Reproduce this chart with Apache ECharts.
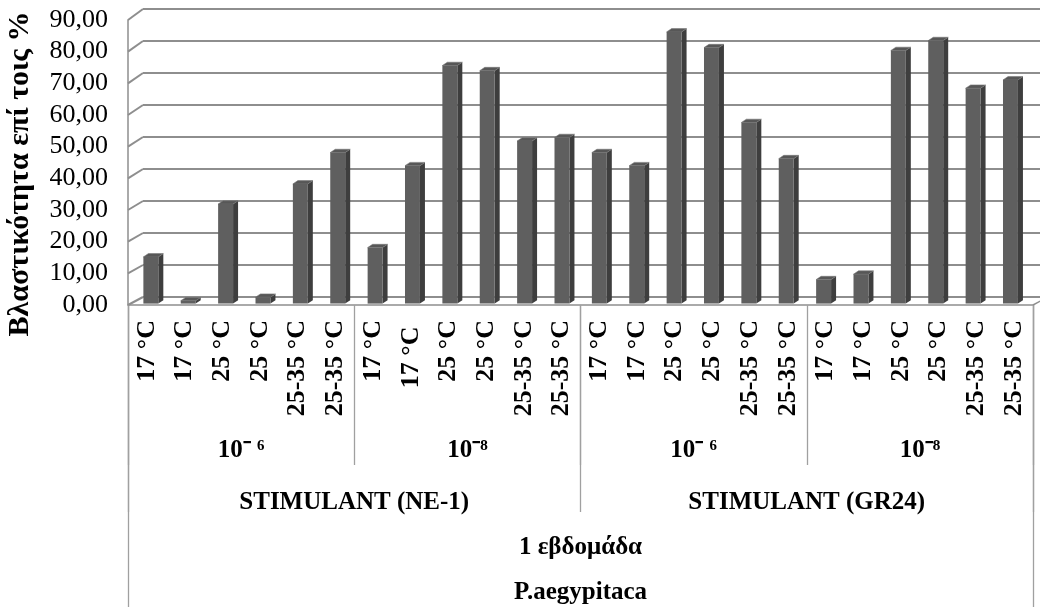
<!DOCTYPE html>
<html>
<head>
<meta charset="utf-8">
<script src="https://cdn.jsdelivr.net/npm/echarts@6/dist/echarts.min.js"></script>
<style>
html,body{margin:0;padding:0;background:#fff;}
#c{width:1040px;height:607px;}
</style>
</head>
<body>
<div id="c"></div>
<script>
// ---- data ----
const temps = ['17 °C','17 °C','25 °C','25 °C','25-35 °C','25-35 °C',
               '17 °C','17 °C ','25 °C','25 °C','25-35 °C','25-35 °C',
               '17 °C','17 °C','25 °C','25 °C','25-35 °C','25-35 °C',
               '17 °C','17 °C','25 °C','25 °C','25-35 °C','25-35 °C'];
const concentrations = ['10⁻ ⁶','10⁻⁸','10⁻ ⁶','10⁻⁸'];
const stimulants = ['STIMULANT (NE-1)','STIMULANT (GR24)'];
const period = ['1 εβδομάδα'];
const species = ['P.aegypitaca'];
const germination = [14.6, 0.9, 31.1, 2.0, 37.4, 47.2,
                     17.5, 43.1, 74.4, 72.8, 50.8, 51.9,
                     47.2, 43.1, 84.9, 80.0, 56.6, 45.3,
                     7.5, 9.2, 79.1, 82.2, 67.3, 69.9];
const yTickLabels = ['0,00','10,00','20,00','30,00','40,00','50,00','60,00','70,00','80,00','90,00'];
const yTitle = 'Βλαστικότητα επί τοις %';

// ---- layout / style ----
const FONT = 'Liberation Serif';
const GRID_BACK = {left:143, top:9, width:905, height:288};
const GRID_FRONT = {left:128, top:20, width:905, height:285};
const GRID_COLOR = '#8e8e8e';
const SEP_COLOR = '#a0a0a0';
const FRONT = '#5f5f5f', SIDE = '#3e3e3e', TOP = '#575757';
const BAR_W = 0.40, BAR_SHIFT = -0.29, FRONT_DY = 6.6, DEPTH_X = 5, DEPTH_Y = -3.3;

const chart = echarts.init(document.getElementById('c'), null, {renderer:'canvas'});

function levelAxis(data, margin, tickLen, showTick) {
  return {
    type:'category', gridIndex:1, position:'bottom', offset:0, data:data,
    axisLine:{show:false},
    axisTick:{show:showTick, length:tickLen, lineStyle:{color:SEP_COLOR, width:1.3}},
    axisLabel:{interval:0, margin:margin, fontFamily:FONT, fontSize:25, fontWeight:'bold', color:'#000'},
    splitLine:{show:false}
  };
}

const option = {
  animation:false,
  backgroundColor:'#fff',
  textStyle:{fontFamily:FONT},
  grid:[
    Object.assign({containLabel:false}, GRID_BACK),
    Object.assign({containLabel:false}, GRID_FRONT)
  ],
  xAxis:[
    {type:'category', gridIndex:0, data:temps.map((t,i)=>i), show:false},
    {type:'category', gridIndex:1, position:'bottom', offset:0, data:temps,
     axisLine:{show:true, lineStyle:{color:GRID_COLOR, width:1.5}},
     axisTick:{show:false},
     axisLabel:{interval:0, rotate:90, margin:15, fontFamily:FONT, fontSize:26, fontWeight:'bold', color:'#000'}},
    levelAxis(concentrations, 133, 160, true),
    levelAxis(stimulants, 185, 207, true),
    levelAxis(period, 230, 302, true),
    levelAxis(species, 275, 0, false)
  ],
  yAxis:[
    {type:'value', gridIndex:0, min:0, max:90, interval:10,
     axisLine:{show:false}, axisTick:{show:false}, axisLabel:{show:false},
     splitLine:{show:true, lineStyle:{color:GRID_COLOR, width:2}}},
    {type:'value', gridIndex:1, min:0, max:90, interval:10,
     axisLine:{show:true, lineStyle:{color:GRID_COLOR, width:1.5}},
     axisTick:{show:false}, splitLine:{show:false},
     axisLabel:{margin:20, fontFamily:FONT, fontSize:26, color:'#000',
       formatter:(v)=>yTickLabels[Math.round(v/10)]}}
  ],
  series:[{
    type:'custom', xAxisIndex:0, yAxisIndex:0,
    data:germination.map((v,i)=>[i,v]),
    encode:{x:0, y:1},
    renderItem:function(params, api){
      const i = api.value(0), v = api.value(1);
      const base = api.coord([i, 0]);
      const top = api.coord([i, v]);
      const band = api.size([1, 0])[0];
      const w = band*BAR_W;
      const cx = base[0] + band*BAR_SHIFT;
      const x0 = cx - w/2, x1 = cx + w/2;
      const yb = base[1] + FRONT_DY, yt = top[1] + FRONT_DY;
      return {type:'group', children:[
        {type:'polygon', shape:{points:[[x1,yb],[x1,yt],[x1+DEPTH_X,yt+DEPTH_Y],[x1+DEPTH_X,yb+DEPTH_Y]]}, style:{fill:SIDE}},
        {type:'polygon', shape:{points:[[x0,yt],[x1,yt],[x1+DEPTH_X,yt+DEPTH_Y],[x0+DEPTH_X,yt+DEPTH_Y]]}, style:{fill:TOP, stroke:'#777', lineWidth:0.6}},
        {type:'rect', shape:{x:x0, y:yt, width:w, height:yb-yt}, style:{fill:FRONT}}
      ]};
    }
  }]
};
chart.setOption(option);

// left wall diagonals and floor right edge, from the two grids' scales
const walls = [];
for (let k = 0; k < yTickLabels.length; k++) {
  const v = k*10;
  const yb = chart.convertToPixel({yAxisIndex:0}, v);
  const yf = chart.convertToPixel({yAxisIndex:1}, v);
  walls.push({type:'line', shape:{x1:GRID_FRONT.left, y1:yf, x2:GRID_BACK.left, y2:yb},
              style:{stroke:GRID_COLOR, lineWidth:2}, z:5});
}
{
  const yb = chart.convertToPixel({yAxisIndex:0}, 0);
  const yf = chart.convertToPixel({yAxisIndex:1}, 0);
  walls.push({type:'line', shape:{x1:GRID_FRONT.left+GRID_FRONT.width, y1:yf,
              x2:GRID_BACK.left+GRID_BACK.width, y2:yb}, style:{stroke:GRID_COLOR, lineWidth:1.5}, z:5});
}
walls.push({type:'text', x:20, y:174, rotation:Math.PI/2,
  style:{text:yTitle, fontFamily:FONT, fontSize:30, fontWeight:'bold', fill:'#000',
         align:'center', verticalAlign:'middle'}});
chart.setOption({graphic:walls});
</script>
</body>
</html>
